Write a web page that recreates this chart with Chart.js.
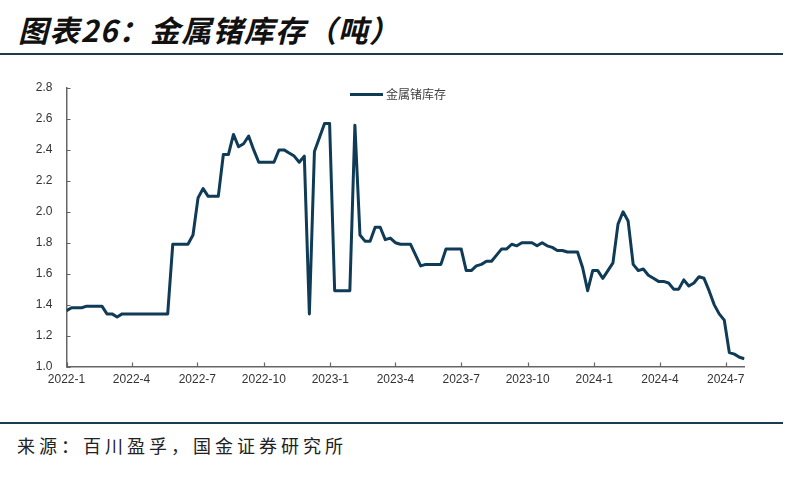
<!DOCTYPE html>
<html>
<head>
<meta charset="utf-8">
<script src="https://cdn.jsdelivr.net/npm/chart.js@4/dist/chart.umd.min.js"></script>
<style>
  html, body { margin: 0; padding: 0; background: #fff; }
  body { width: 800px; height: 495px; position: relative; overflow: hidden; }
  #title {
    position: absolute; left: 18px; top: 7px;
    font-family: "Noto Sans CJK SC", sans-serif; font-weight: bold; font-style: italic;
    font-size: 30px; letter-spacing: 1.3px; color: #111; white-space: nowrap;
  }
  .rule { position: absolute; left: 0; width: 783px; height: 2px; background: #1d3a4f; }
  #source {
    position: absolute; left: 17px; top: 432px;
    font-family: "Noto Sans CJK SC", sans-serif; font-size: 18px; letter-spacing: 4px;
    color: #222; white-space: nowrap;
  }
  #wrap { position: absolute; left: 0; top: 60px; width: 800px; height: 340px; }
</style>
</head>
<body>
<div id="title">图表26：金属锗库存（吨）</div>
<div class="rule" style="top:53px"></div>
<div id="wrap"><canvas id="chart"></canvas></div>
<div class="rule" style="top:422px"></div>
<div id="source">来源：百川盈孚，国金证券研究所</div>

<script>
// weekly stock, tonnes, first week = 2022-01-01
var seriesName = "金属锗库存";
var stock = [
  1.36, 1.38, 1.38, 1.38, 1.39, 1.39, 1.39, 1.39, 1.34, 1.34,
  1.32, 1.34, 1.34, 1.34, 1.34, 1.34, 1.34, 1.34, 1.34, 1.34,
  1.34, 1.79, 1.79, 1.79, 1.79, 1.85, 2.09, 2.15, 2.10, 2.10,
  2.10, 2.37, 2.37, 2.50, 2.42, 2.44, 2.49, 2.40, 2.32, 2.32,
  2.32, 2.32, 2.40, 2.40, 2.38, 2.36, 2.32, 2.36, 1.34, 2.39,
  2.48, 2.57, 2.57, 1.49, 1.49, 1.49, 1.49, 2.56, 1.85, 1.81,
  1.81, 1.90, 1.90, 1.82, 1.83, 1.80, 1.79, 1.79, 1.79, 1.72,
  1.65, 1.66, 1.66, 1.66, 1.66, 1.76, 1.76, 1.76, 1.76, 1.62,
  1.62, 1.65, 1.66, 1.68, 1.68, 1.72, 1.76, 1.76, 1.79, 1.78,
  1.80, 1.80, 1.80, 1.78, 1.80, 1.78, 1.77, 1.75, 1.75, 1.74,
  1.74, 1.74, 1.64, 1.49, 1.62, 1.62, 1.57, 1.62, 1.67, 1.92,
  2.00, 1.94, 1.66, 1.62, 1.63, 1.59, 1.57, 1.55, 1.55, 1.54,
  1.50, 1.50, 1.56, 1.52, 1.54, 1.58, 1.57, 1.49, 1.40, 1.34,
  1.30, 1.09, 1.08, 1.06, 1.05
];
// quarter ticks, as days since 2022-01-01
var tickDays = [0, 90, 181, 273, 365, 455, 546, 638, 730, 821, 912];
var tickLabels = ["2022-1", "2022-4", "2022-7", "2022-10", "2023-1", "2023-4",
                  "2023-7", "2023-10", "2024-1", "2024-4", "2024-7"];

var lineColor = "#0f3b57";
var axisColor = "#666666";

var points = [];
for (var i = 0; i < stock.length; i++) {
  points.push({ x: i * 7, y: stock[i] });
}

// small tick marks drawn inside the plot, like the original
var innerTicks = {
  id: "innerTicks",
  afterDraw: function (chart) {
    var ctx = chart.ctx, xs = chart.scales.x, ys = chart.scales.y;
    ctx.save();
    ctx.strokeStyle = axisColor;
    ctx.lineWidth = 1.2;
    ctx.beginPath();
    ys.ticks.forEach(function (t) {
      var py = Math.round(ys.getPixelForValue(t.value)) + 0.5;
      ctx.moveTo(ys.right, py);
      ctx.lineTo(ys.right + 4, py);
    });
    xs.ticks.forEach(function (t) {
      var px = Math.round(xs.getPixelForValue(t.value)) + 0.5;
      ctx.moveTo(px, xs.top);
      ctx.lineTo(px, xs.top - 4);
    });
    ctx.stroke();
    ctx.restore();
  }
};

// legend sits inside the plot, near the top middle
var innerLegend = {
  id: "innerLegend",
  afterDraw: function (chart) {
    var ctx = chart.ctx, area = chart.chartArea;
    var ds = chart.data.datasets[0];
    var x0 = area.left + 283.5, y0 = area.top + 6.5;
    ctx.save();
    ctx.strokeStyle = ds.borderColor;
    ctx.lineWidth = 3;
    ctx.beginPath();
    ctx.moveTo(x0, y0);
    ctx.lineTo(x0 + 33, y0);
    ctx.stroke();
    ctx.fillStyle = "#404040";
    ctx.font = "12px 'Noto Sans CJK SC', sans-serif";
    ctx.textBaseline = "middle";
    ctx.fillText(ds.label, x0 + 36, y0);
    ctx.restore();
  }
};

new Chart(document.getElementById("chart"), {
  type: "line",
  data: {
    datasets: [{
      label: seriesName,
      data: points,
      borderColor: lineColor,
      backgroundColor: lineColor,
      borderWidth: 3,
      borderJoinStyle: "round",
      pointRadius: 0,
      tension: 0
    }]
  },
  options: {
    responsive: true,
    maintainAspectRatio: false,
    animation: false,
    layout: { padding: { top: 28, right: 55.5, bottom: 3.5, left: 0 } },
    plugins: {
      tooltip: { enabled: false },
      legend: { display: false }
    },
    scales: {
      x: {
        type: "linear",
        min: 0,
        max: (stock.length - 1) * 7,
        afterBuildTicks: function (scale) {
          scale.ticks = tickDays.map(function (d) { return { value: d }; });
        },
        afterFit: function (scale) { scale.height = 30; },
        ticks: {
          autoSkip: false,
          maxRotation: 0,
          padding: 6,
          color: "#333",
          font: { family: "'Liberation Sans', Arial, sans-serif", size: 12 },
          callback: function (v) {
            var k = tickDays.indexOf(v);
            return k >= 0 ? tickLabels[k] : null;
          }
        },
        grid: { display: true, drawOnChartArea: false, drawTicks: false },
        border: { display: true, color: axisColor, width: 1.5 }
      },
      y: {
        min: 1.0,
        max: 2.8,
        afterFit: function (scale) { scale.width = 66.5; },
        ticks: {
          stepSize: 0.2,
          padding: 14,
          color: "#333",
          font: { family: "'Liberation Sans', Arial, sans-serif", size: 12 },
          callback: function (v) { return v.toFixed(1); }
        },
        grid: { display: true, drawOnChartArea: false, drawTicks: false },
        border: { display: true, color: axisColor, width: 1.5 }
      }
    }
  },
  plugins: [innerTicks, innerLegend]
});
</script>
</body>
</html>
